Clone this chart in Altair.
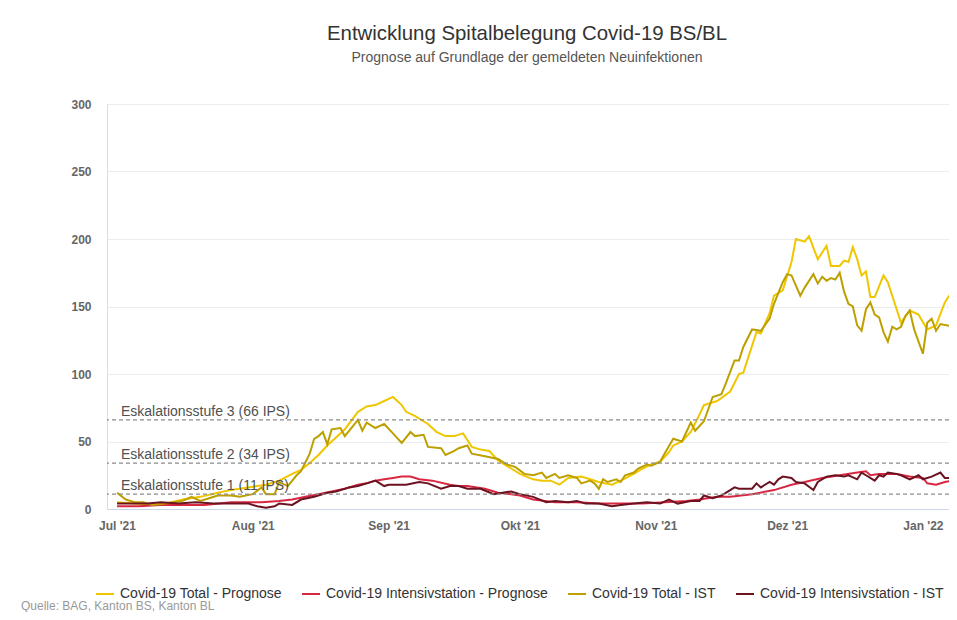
import altair as alt
import pandas as pd

# ---------------- data ----------------
series_names = [
    "Covid-19 Total - Prognose",
    "Covid-19 Intensivstation - Prognose",
    "Covid-19 Total - IST",
    "Covid-19 Intensivstation - IST",
]
series_colors = ["#efc600", "#d92742", "#bda000", "#6c1321"]

total_prog_dates = [
    "2021-07-01", "2021-07-05", "2021-07-09", "2021-07-12", "2021-07-16", "2021-07-20",
    "2021-07-24", "2021-07-27", "2021-07-31", "2021-08-04", "2021-08-07", "2021-08-10",
    "2021-08-12", "2021-08-14", "2021-08-16", "2021-08-18", "2021-08-20", "2021-08-22",
    "2021-08-25", "2021-08-27", "2021-08-29", "2021-08-31", "2021-09-02", "2021-09-04",
    "2021-09-05", "2021-09-07", "2021-09-08", "2021-09-10", "2021-09-12", "2021-09-14",
    "2021-09-16", "2021-09-18", "2021-09-20", "2021-09-22", "2021-09-24", "2021-09-26",
    "2021-09-29", "2021-10-01", "2021-10-04", "2021-10-06", "2021-10-08", "2021-10-10",
    "2021-10-12", "2021-10-15", "2021-10-17", "2021-10-19", "2021-10-22", "2021-10-24",
    "2021-10-27", "2021-10-29", "2021-10-31", "2021-11-02", "2021-11-04", "2021-11-05",
    "2021-11-07", "2021-11-09", "2021-11-11", "2021-11-12", "2021-11-15", "2021-11-18",
    "2021-11-20", "2021-11-21", "2021-11-22", "2021-11-24", "2021-11-25", "2021-11-27",
    "2021-11-28", "2021-11-30", "2021-12-02", "2021-12-03", "2021-12-05", "2021-12-06",
    "2021-12-08", "2021-12-10", "2021-12-11", "2021-12-13", "2021-12-14", "2021-12-15",
    "2021-12-16", "2021-12-17", "2021-12-18", "2021-12-19", "2021-12-20", "2021-12-21",
    "2021-12-23", "2021-12-24", "2021-12-26", "2021-12-27", "2021-12-29", "2021-12-31",
    "2022-01-02", "2022-01-04", "2022-01-06", "2022-01-07", "2022-01-08",
]
total_prog_values = [
    5, 4, 3, 4, 7, 9,
    12, 14, 16, 18, 21, 26,
    29, 34, 40, 47, 53, 59,
    72, 76, 77, 80, 83, 77,
    72, 69, 67, 63, 57, 54,
    54, 56, 46, 44, 43, 36,
    30, 26, 22, 21, 21, 18,
    23, 24, 22, 20, 18, 21,
    26, 30, 33, 35, 42, 47,
    50, 57, 70, 77, 80, 87,
    100, 101, 111, 131, 130, 145,
    158, 162, 183, 200, 198, 202,
    185, 195, 180, 180, 184, 183,
    194, 185, 173, 176, 157, 157,
    173, 168, 148, 138, 147, 144,
    133, 136, 153, 158, 150,
]

icu_prog_dates = [
    "2021-07-01", "2021-07-06", "2021-07-11", "2021-07-16", "2021-07-21", "2021-07-27",
    "2021-07-31", "2021-08-03", "2021-08-07", "2021-08-10", "2021-08-13", "2021-08-16",
    "2021-08-19", "2021-08-22", "2021-08-25", "2021-08-27", "2021-08-29", "2021-08-31",
    "2021-09-02", "2021-09-04", "2021-09-06", "2021-09-08", "2021-09-11", "2021-09-15",
    "2021-09-17", "2021-09-19", "2021-09-23", "2021-09-26", "2021-09-29", "2021-10-01",
    "2021-10-04", "2021-10-09", "2021-10-14", "2021-10-19", "2021-10-24", "2021-10-29",
    "2021-11-03", "2021-11-08", "2021-11-11", "2021-11-15", "2021-11-18", "2021-11-23",
    "2021-11-28", "2021-12-02", "2021-12-05", "2021-12-09", "2021-12-13", "2021-12-17",
    "2021-12-19", "2021-12-20", "2021-12-22", "2021-12-26", "2021-12-29", "2022-01-01",
    "2022-01-02", "2022-01-04", "2022-01-06", "2022-01-08",
]
icu_prog_values = [
    2, 2, 3, 3, 3, 5,
    5, 5, 6, 7, 9, 11,
    13, 15, 18, 19, 21, 22,
    23, 24, 24, 22, 21, 18,
    17, 17, 15, 12, 11, 10,
    7, 5, 5, 4, 4, 4,
    5, 6, 7, 9, 9, 11,
    14, 18, 20, 23, 25, 27,
    28, 25, 26, 26, 24, 23,
    19, 18, 20, 21,
]

total_ist_dates = [
    "2021-07-01", "2021-07-03", "2021-07-05", "2021-07-07", "2021-07-09", "2021-07-12",
    "2021-07-14", "2021-07-16", "2021-07-18", "2021-07-20", "2021-07-22", "2021-07-24",
    "2021-07-27", "2021-07-29", "2021-08-01", "2021-08-03", "2021-08-04", "2021-08-06",
    "2021-08-07", "2021-08-09", "2021-08-11", "2021-08-12", "2021-08-14", "2021-08-15",
    "2021-08-16", "2021-08-17", "2021-08-18", "2021-08-19", "2021-08-21", "2021-08-22",
    "2021-08-24", "2021-08-25", "2021-08-26", "2021-08-27", "2021-08-29", "2021-08-31",
    "2021-09-02", "2021-09-04", "2021-09-06", "2021-09-07", "2021-09-09", "2021-09-10",
    "2021-09-13", "2021-09-14", "2021-09-16", "2021-09-17", "2021-09-19", "2021-09-20",
    "2021-09-23", "2021-09-26", "2021-09-28", "2021-09-30", "2021-10-02", "2021-10-04",
    "2021-10-06", "2021-10-07", "2021-10-09", "2021-10-10", "2021-10-12", "2021-10-14",
    "2021-10-15", "2021-10-17", "2021-10-18", "2021-10-19", "2021-10-20", "2021-10-21",
    "2021-10-23", "2021-10-24", "2021-10-25", "2021-10-27", "2021-10-28", "2021-10-30",
    "2021-10-31", "2021-11-02", "2021-11-03", "2021-11-05", "2021-11-07", "2021-11-09",
    "2021-11-10", "2021-11-12", "2021-11-14", "2021-11-16", "2021-11-17", "2021-11-19",
    "2021-11-20", "2021-11-21", "2021-11-23", "2021-11-25", "2021-11-27", "2021-11-28",
    "2021-11-30", "2021-12-01", "2021-12-02", "2021-12-04", "2021-12-05", "2021-12-07",
    "2021-12-08", "2021-12-09", "2021-12-10", "2021-12-11", "2021-12-12", "2021-12-13",
    "2021-12-14", "2021-12-15", "2021-12-16", "2021-12-17", "2021-12-18", "2021-12-19",
    "2021-12-20", "2021-12-21", "2021-12-22", "2021-12-23", "2021-12-24", "2021-12-25",
    "2021-12-26", "2021-12-27", "2021-12-28", "2021-12-29", "2021-12-30", "2022-01-01",
    "2022-01-02", "2022-01-03", "2022-01-04", "2022-01-05", "2022-01-08",
]
total_ist_values = [
    12, 7, 5, 5, 3, 4,
    5, 6, 9, 6, 8, 10,
    10, 9, 11, 16, 11, 11,
    20, 17, 25, 28, 41, 52,
    54, 57, 48, 59, 60, 54,
    62, 66, 58, 64, 60, 63,
    56, 49, 57, 54, 55, 46,
    45, 40, 43, 45, 47, 41,
    39, 37, 33, 31, 26, 25,
    27, 23, 26, 23, 25, 23,
    19, 21, 19, 15, 22, 20,
    22, 20, 25, 27, 30, 33,
    32, 35, 41, 52, 50, 64,
    58, 65, 83, 85, 93, 110,
    110, 120, 133, 132, 141, 152,
    168, 174, 173, 158, 164, 174,
    167, 172, 169, 171, 170, 175,
    161, 152, 150, 136, 132, 148,
    153, 144, 142, 131, 124, 135,
    133, 135, 143, 147, 133, 115,
    138, 141, 132, 137, 135,
]

icu_ist_dates = [
    "2021-07-01", "2021-07-04", "2021-07-08", "2021-07-11", "2021-07-15", "2021-07-19",
    "2021-07-23", "2021-07-27", "2021-07-31", "2021-08-02", "2021-08-04", "2021-08-06",
    "2021-08-07", "2021-08-10", "2021-08-12", "2021-08-15", "2021-08-18", "2021-08-20",
    "2021-08-23", "2021-08-25", "2021-08-27", "2021-08-29", "2021-08-31", "2021-09-01",
    "2021-09-04", "2021-09-05", "2021-09-08", "2021-09-10", "2021-09-13", "2021-09-15",
    "2021-09-17", "2021-09-19", "2021-09-22", "2021-09-25", "2021-09-27", "2021-09-29",
    "2021-10-01", "2021-10-04", "2021-10-07", "2021-10-09", "2021-10-12", "2021-10-14",
    "2021-10-16", "2021-10-19", "2021-10-22", "2021-10-24", "2021-10-27", "2021-10-30",
    "2021-11-02", "2021-11-04", "2021-11-06", "2021-11-09", "2021-11-11", "2021-11-12",
    "2021-11-14", "2021-11-16", "2021-11-19", "2021-11-20", "2021-11-23", "2021-11-24",
    "2021-11-25", "2021-11-27", "2021-11-28", "2021-11-29", "2021-11-30", "2021-12-02",
    "2021-12-03", "2021-12-05", "2021-12-07", "2021-12-08", "2021-12-10", "2021-12-12",
    "2021-12-14", "2021-12-15", "2021-12-17", "2021-12-18", "2021-12-19", "2021-12-21",
    "2021-12-22", "2021-12-23", "2021-12-24", "2021-12-26", "2021-12-27", "2021-12-29",
    "2021-12-31", "2022-01-01", "2022-01-03", "2022-01-05", "2022-01-06", "2022-01-08",
]
icu_ist_values = [
    4, 4, 4, 5, 4, 5,
    4, 4, 4, 2, 1, 2,
    4, 3, 7, 9, 12, 13,
    16, 17, 19, 21, 17, 18,
    18, 18, 20, 19, 15, 17,
    17, 15, 15, 11, 12, 13,
    11, 9, 5, 6, 5, 6,
    4, 4, 2, 3, 4, 5,
    4, 7, 4, 6, 6, 10,
    8, 10, 16, 15, 15, 19,
    16, 20, 18, 22, 24, 23,
    20, 19, 14, 20, 24, 25,
    24, 25, 22, 27, 25, 21,
    25, 24, 27, 26, 25, 22,
    25, 22, 24, 27, 23, 23,
]

esc_values = [66, 34, 11]
esc_labels = [
    "Eskalationsstufe 3 (66 IPS)",
    "Eskalationsstufe 2 (34 IPS)",
    "Eskalationsstufe 1 (11 IPS)",
]
y_ticks = [0, 50, 100, 150, 200, 250, 300]
source_text = ["Quelle: BAG, Kanton BS, Kanton BL"]

# ---------------- tables ----------------
rows = []
for name, dates, vals in zip(
    series_names,
    [total_prog_dates, icu_prog_dates, total_ist_dates, icu_ist_dates],
    [total_prog_values, icu_prog_values, total_ist_values, icu_ist_values],
):
    for d, v in zip(dates, vals):
        rows.append({"datum": d, "wert": v, "serie": name})
df = pd.DataFrame(rows)
esc_df = pd.DataFrame({"wert": esc_values, "label": esc_labels})
src_df = pd.DataFrame({"t": source_text})

FONT = "Liberation Sans"

x_scale = alt.Scale(
    type="utc",
    domain=[
        alt.DateTime(year=2021, month=6, date=28, hours=17, utc=True),
        alt.DateTime(year=2022, month=1, date=6, hours=23, utc=True),
    ],
)
y_scale = alt.Scale(domain=[0, 300], nice=False)

month_values = [
    alt.DateTime(year=2021, month=m, date=1, utc=True) for m in (7, 8, 9, 10, 11, 12)
] + [alt.DateTime(year=2022, month=1, date=1, utc=True)]

label_expr = (
    "['Jan','Feb','Mär','Apr','Mai','Jun','Jul','Aug','Sep','Okt','Nov','Dez']"
    "[utcmonth(datum.value)] + \" '\" + utcFormat(datum.value, '%y')"
)

lines = alt.Chart(df).mark_line(strokeWidth=2, clip=True).encode(
    x=alt.X(
        "datum:T",
        scale=x_scale,
        axis=alt.Axis(
            values=month_values,
            labelExpr=label_expr,
            title=None,
            grid=False,
            ticks=False,
            domain=True,
            domainColor="#ccd6eb",
            domainWidth=1,
            labelColor="#666666",
            labelFont=FONT,
            labelFontSize=12,
            labelFontWeight="bold",
            labelPadding=11,
        ),
    ),
    y=alt.Y(
        "wert:Q",
        scale=y_scale,
        axis=alt.Axis(
            values=y_ticks,
            title=None,
            grid=True,
            gridColor="#ececec",
            domain=False,
            ticks=False,
            labelColor="#666666",
            labelFont=FONT,
            labelFontSize=12,
            labelFontWeight="bold",
            labelPadding=16,
        ),
    ),
    color=alt.Color(
        "serie:N",
        scale=alt.Scale(domain=series_names, range=series_colors),
        sort=series_names,
        legend=alt.Legend(
            orient="none",
            legendX=-12,
            legendY=480,
            direction="horizontal",
            title=None,
            symbolType="stroke",
            symbolStrokeWidth=2,
            symbolSize=324,
            labelFont=FONT,
            labelFontSize=14,
            labelColor="#333333",
            labelOffset=5,
            columnPadding=16,
            labelLimit=400,
        ),
    ),
    detail="serie:N",
)

rules = alt.Chart(esc_df).mark_rule(
    color="#8c8c8c", strokeDash=[4, 3], strokeWidth=1.3
).encode(y=alt.Y("wert:Q"))

rule_text = alt.Chart(esc_df).mark_text(
    align="left", baseline="middle", dy=-8, fontSize=14, font=FONT, color="#505050"
).encode(
    x=alt.value(14),
    y=alt.Y("wert:Q"),
    text="label:N",
)

source = alt.Chart(src_df).mark_text(
    align="left", baseline="middle", fontSize=12, font=FONT, color="#999999"
).encode(x=alt.value(-86), y=alt.value(502), text="t:N")

chart = (
    alt.layer(lines, rules, rule_text, source)
    .properties(
        width=842,
        height=405,
        title=alt.TitleParams(
            text="Entwicklung Spitalbelegung Covid-19 BS/BL",
            subtitle="Prognose auf Grundlage der gemeldeten Neuinfektionen",
            font=FONT,
            fontSize=20.4,
            fontWeight="normal",
            color="#333333",
            subtitleFont=FONT,
            subtitleFontSize=14,
            subtitleColor="#555555",
            subtitlePadding=7,
            anchor="middle",
            dx=-1,
            offset=33,
        ),
        autosize=alt.AutoSizeParams(type="none"),
        padding={"left": 99, "top": 96, "right": 0, "bottom": 103},
    )
    .configure_view(strokeWidth=0)
    .configure(background="white")
)

chart.save("out.html", embed_options={"renderer": "svg", "actions": False})
